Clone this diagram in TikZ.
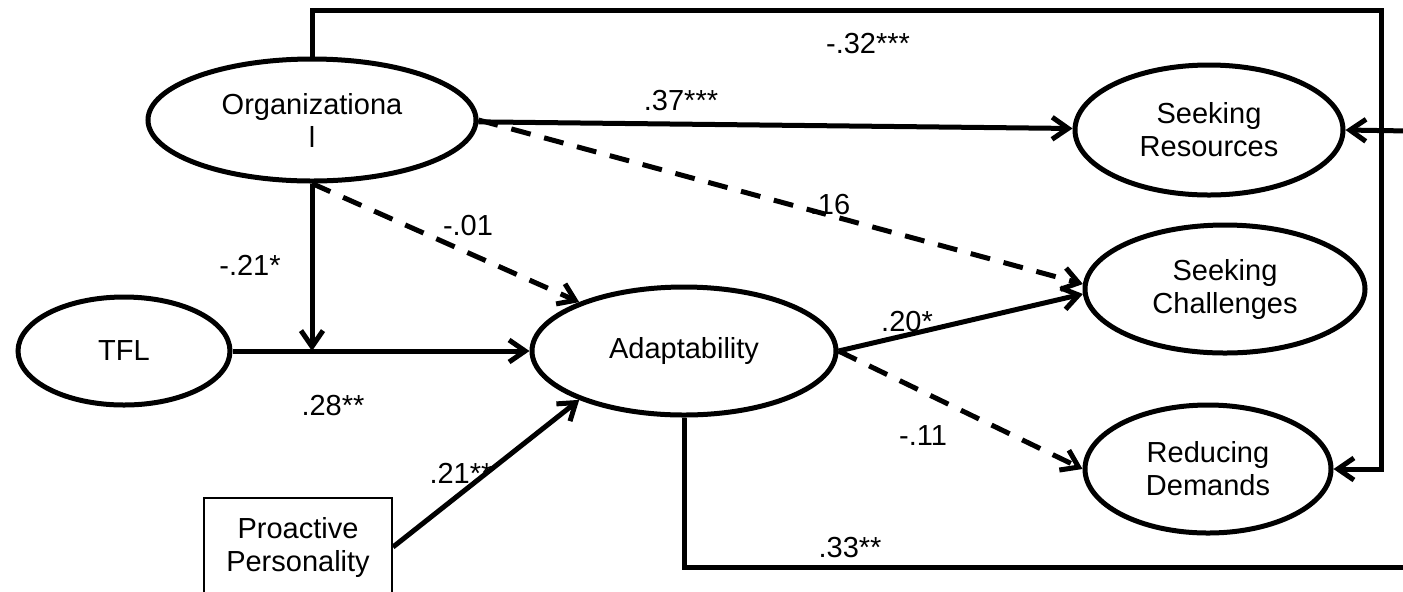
\documentclass[tikz,border=0pt]{standalone}
\usepackage{fontspec}
\setmainfont{Liberation Sans}
\usetikzlibrary{arrows.meta,shapes.geometric}

\begin{document}
\begin{tikzpicture}[%
x=0.5pt, y=-0.5pt,
>={Straight Barb[length=8pt,width=11pt]},
latent/.style={ellipse, draw, line width=2.5pt, inner sep=0pt, align=center,
  font=\fontsize{14.5}{16.5}\selectfont},
observed/.style={rectangle, draw, line width=1pt, inner sep=0pt, align=center,
  font=\fontsize{14.5}{16.5}\selectfont},
sig/.style={->, line width=2.5pt},
nonsig/.style={sig, dash pattern=on 10pt off 7pt},
lbl/.style={inner sep=0pt, font=\fontsize{14.5}{16.5}\selectfont}
]
\useasboundingbox (0,0) rectangle (1403,591);

\node[latent, minimum width=164pt, minimum height=61pt] (org) at (312,120) {Organizationa\\l};
\node[latent, minimum width=106pt, minimum height=54pt] (tfl) at (124,351) {TFL};
\node[latent, minimum width=152pt, minimum height=64pt] (adapt) at (684,351) {Adaptability};
\node[observed, minimum width=94pt, minimum height=49pt] (pp) at (298,547) {Proactive\\Personality};
\node[latent, minimum width=134pt, minimum height=65pt] (sr) at (1209,130) {Seeking\\Resources};
\node[latent, minimum width=140pt, minimum height=64pt] (sc) at (1225,289) {Seeking\\Challenges};
\node[latent, minimum width=123pt, minimum height=64pt] (rd) at (1208,469) {Reducing\\Demands};

\coordinate (mod) at (312,351);
\coordinate (topright) at (1381,10);
\coordinate (botright) at (1410,567);
\coordinate (srin) at (1410,131);

% paths
\path[sig] (org) edge (sr);
\path[nonsig] (org.east) edge (sc.178);
\path[nonsig] (org.south) edge (adapt.155);
\path[sig] (org.south) edge (mod);
\path[sig] (tfl) edge (adapt);
\path[sig] (pp.east) edge (adapt.205);
\path[sig] (adapt.east) edge (sc.182);
\path[nonsig] (adapt.east) edge (rd.west);
\draw[sig] (org.north) |- (topright) |- (rd.east);
\draw[line width=2.5pt] (adapt.south) |- (botright);
\draw[sig] (srin) -- (sr.east);

% coefficients
\node[lbl] (c1) at (868,44) {-.32***};
\node[lbl] (c2) at (681,101) {.37***};
\node[lbl] (c3) at (830,205) {.16};
\node[lbl] (c4) at (468,226) {-.01};
\node[lbl] (c5) at (250,265) {-.21*};
\node[lbl] (c6) at (333,406) {.28**};
\node[lbl] (c7) at (907,322) {.20*};
\node[lbl] (c8) at (923,436) {-.11};
\node[lbl] (c9) at (461,473) {.21**};
\node[lbl] (c10) at (850,548) {.33**};

\end{tikzpicture}
\end{document}
